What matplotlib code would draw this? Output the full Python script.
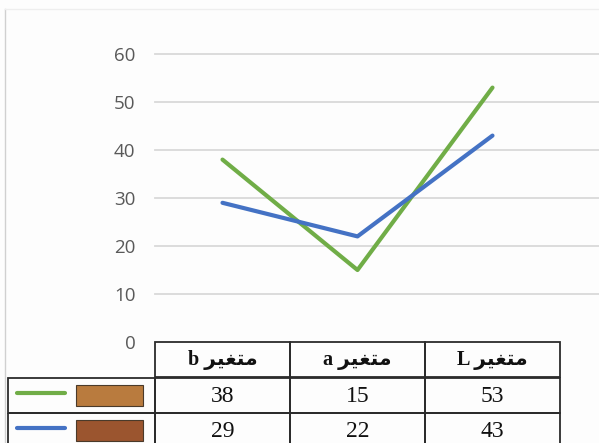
import matplotlib.pyplot as plt
from matplotlib.patches import Rectangle

# chart data
categories = ["متغير b", "متغير a", "متغير L"]
green_vals = [38, 15, 53]
blue_vals = [29, 22, 43]
yticks = [0, 10, 20, 30, 40, 50, 60]

# matplotlib does no arabic shaping, so give it presentation forms in visual order
def shape_ar(label):
    word, letter = label.split(" ")
    forms = {"م": "\uFEE3", "ت": "\uFE98", "غ": "\uFED0", "ي": "\uFEF4", "ر": "\uFEAE"}
    shaped = "".join(forms[c] for c in word)[::-1]
    return letter + " " + shaped

W, H = 599, 443
fig = plt.figure(figsize=(W / 100, H / 100), dpi=100)
fig.patch.set_facecolor("#fdfdfd")

# plot area in pixels
x0, y_top, y_zero = 155, 54, 342
col_w = 135
ax = fig.add_axes([x0 / W, (H - y_zero) / H, (W - x0) / W, (y_zero - y_top) / H])
ax.set_facecolor("#fdfdfd")
xs = list(range(len(categories)))
ax.set_xlim(-0.5, -0.5 + (W - x0) / col_w)
ax.set_ylim(0, 60)
ax.set_yticks(yticks)
for t in yticks[1:]:
    ax.axhline(t, color="#d9d9d9", lw=1.3, zorder=1, clip_on=False)
ax.plot(xs, green_vals, color="#70ad47", lw=3, solid_capstyle="round", zorder=3)
ax.plot(xs, blue_vals, color="#4472c4", lw=3, solid_capstyle="round", zorder=3)
ax.set_xticks([])
for s in ax.spines.values():
    s.set_visible(False)
ax.tick_params(axis="y", length=0, pad=14, labelsize=13.5, labelcolor="#595959")
for lab in ax.get_yticklabels():
    lab.set_fontfamily("Open Sans")

# data table drawn in pixel space below the plot
tx = fig.add_axes([0, 0, 1, 1], facecolor="none")
tx.set_xlim(0, W)
tx.set_ylim(H, 0)
tx.axis("off")

edge = "#2b2b2b"
row_top = [342, 378, 413]
row_h = 35
serif = ["Liberation Serif", "DejaVu Sans"]

# header row
for i, cat in enumerate(categories):
    left = x0 + i * col_w
    tx.add_patch(Rectangle((left, row_top[0]), col_w, row_h, fill=False, ec=edge, lw=1.3))
    tx.text(left + col_w / 2, row_top[0] + row_h / 2, shape_ar(cat), family=serif,
            fontsize=14.5, fontweight="bold", ha="center", va="center", color="#111111")

series = [(green_vals, "#70ad47", "#b97b3e"), (blue_vals, "#4472c4", "#9b552f")]
for r, (vals, lc, sw) in enumerate(series):
    top = row_top[r + 1]
    # legend cell
    tx.add_patch(Rectangle((8, top), x0 - 8, row_h, fill=False, ec=edge, lw=1.3))
    tx.plot([17, 65], [top + 15, top + 15], color=lc, lw=3, solid_capstyle="round")
    tx.add_patch(Rectangle((76, top + 7), 67, 21, fc=sw, ec="#4a3a2a", lw=0.8))
    for i, v in enumerate(vals):
        left = x0 + i * col_w
        tx.add_patch(Rectangle((left, top), col_w, row_h, fill=False, ec=edge, lw=1.3))
        tx.text(left + col_w / 2, top + row_h / 2 + 1, str(v), family=serif,
                fontsize=17, ha="center", va="center", color="#111111")

# faint scan border
tx.plot([5, 5], [9, H], color="#d0d0d0", lw=1)
tx.plot([5, W], [9, 9], color="#eeeeee", lw=1)

fig.savefig("out.png", dpi=100, facecolor=fig.get_facecolor())
